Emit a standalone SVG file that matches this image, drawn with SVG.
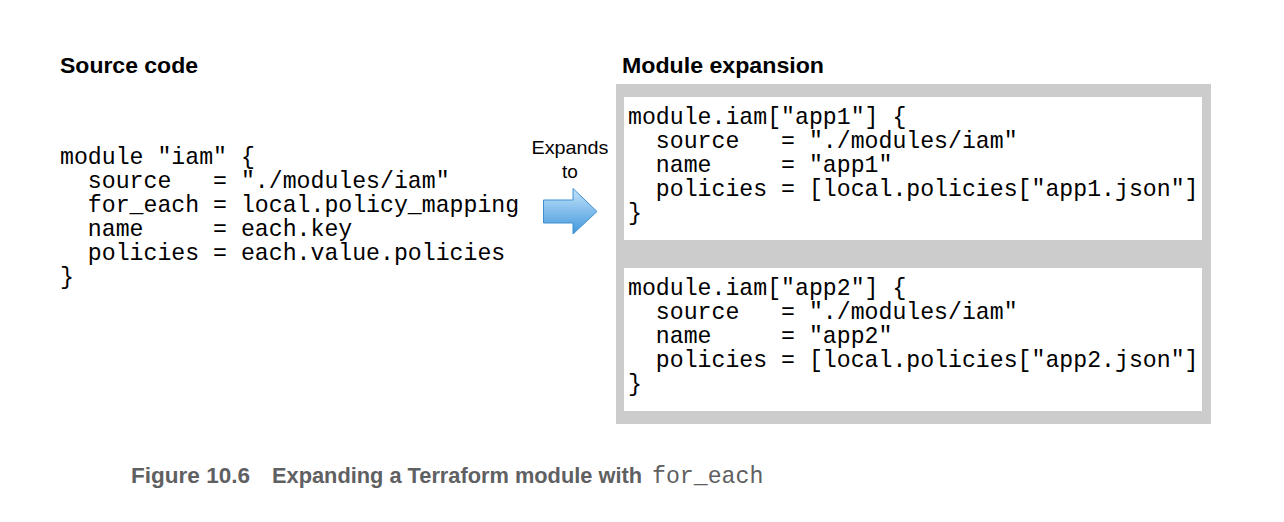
<svg xmlns="http://www.w3.org/2000/svg" width="1284" height="522" viewBox="0 0 1284 522">
<defs>
<style>
.hdr{font-family:"Liberation Sans",Arial,sans-serif;font-weight:bold;font-size:22px;fill:#000}
.code{font-family:"Liberation Mono","Courier New",monospace;font-size:23.2px;fill:#000;white-space:pre}
.lbl{font-family:"Liberation Sans",Arial,sans-serif;font-size:19px;fill:#000}
.cap{font-family:"Liberation Sans",Arial,sans-serif;font-weight:bold;font-size:22px;fill:#5f6062}
.capm{font-family:"Liberation Mono","Courier New",monospace;font-size:23.2px;fill:#5f6062}
.panel{fill:#cccccc}
.box{fill:#ffffff}
</style>
<linearGradient id="arrowGrad" x1="0" y1="0" x2="0" y2="1">
<stop offset="0" stop-color="#c4e4fa"/>
<stop offset="1" stop-color="#3f97dc"/>
</linearGradient>
</defs>
<rect width="1284" height="522" fill="#ffffff"/>

<g id="source">
<text class="hdr" x="60" y="73" textLength="138" lengthAdjust="spacingAndGlyphs">Source code</text>
<text class="code" xml:space="preserve" x="60" y="164">module "iam" {</text>
<text class="code" xml:space="preserve" x="60" y="188">  source   = "./modules/iam"</text>
<text class="code" xml:space="preserve" x="60" y="212">  for_each = local.policy_mapping</text>
<text class="code" xml:space="preserve" x="60" y="236">  name     = each.key</text>
<text class="code" xml:space="preserve" x="60" y="260">  policies = each.value.policies</text>
<text class="code" xml:space="preserve" x="60" y="284">}</text>
</g>

<g id="expansion">
<text class="hdr" x="622" y="73" textLength="202" lengthAdjust="spacingAndGlyphs">Module expansion</text>
<rect class="panel" x="616" y="84" width="595" height="340"/>
</g>

<g id="app1">
<rect class="box" x="624" y="97" width="578" height="143"/>
<text class="code" xml:space="preserve" x="628" y="124">module.iam["app1"] {</text>
<text class="code" xml:space="preserve" x="628" y="148">  source   = "./modules/iam"</text>
<text class="code" xml:space="preserve" x="628" y="172">  name     = "app1"</text>
<text class="code" xml:space="preserve" x="628" y="196">  policies = [local.policies["app1.json"]</text>
<text class="code" xml:space="preserve" x="628" y="220">}</text>
</g>

<g id="app2">
<rect class="box" x="624" y="268" width="578" height="143"/>
<text class="code" xml:space="preserve" x="628" y="295">module.iam["app2"] {</text>
<text class="code" xml:space="preserve" x="628" y="319">  source   = "./modules/iam"</text>
<text class="code" xml:space="preserve" x="628" y="343">  name     = "app2"</text>
<text class="code" xml:space="preserve" x="628" y="367">  policies = [local.policies["app2.json"]</text>
<text class="code" xml:space="preserve" x="628" y="391">}</text>
</g>

<g id="connectors">
<path d="M543.5,200 L573,200 L573,188.5 L597,211.5 L573,234 L573,223 L543.5,223 Z" fill="url(#arrowGrad)" stroke="#3f8fd0" stroke-width="1"/>
<text class="lbl" x="570" y="154" text-anchor="middle" textLength="77" lengthAdjust="spacingAndGlyphs">Expands</text>
<text class="lbl" x="570" y="178" text-anchor="middle">to</text>
</g>

<g id="caption">
<text class="cap" x="131" y="483" textLength="119" lengthAdjust="spacingAndGlyphs">Figure 10.6</text>
<text class="cap" x="272" y="483" textLength="370" lengthAdjust="spacingAndGlyphs">Expanding a Terraform module with</text>
<text class="capm" x="652" y="483">for_each</text>
</g>
</svg>
